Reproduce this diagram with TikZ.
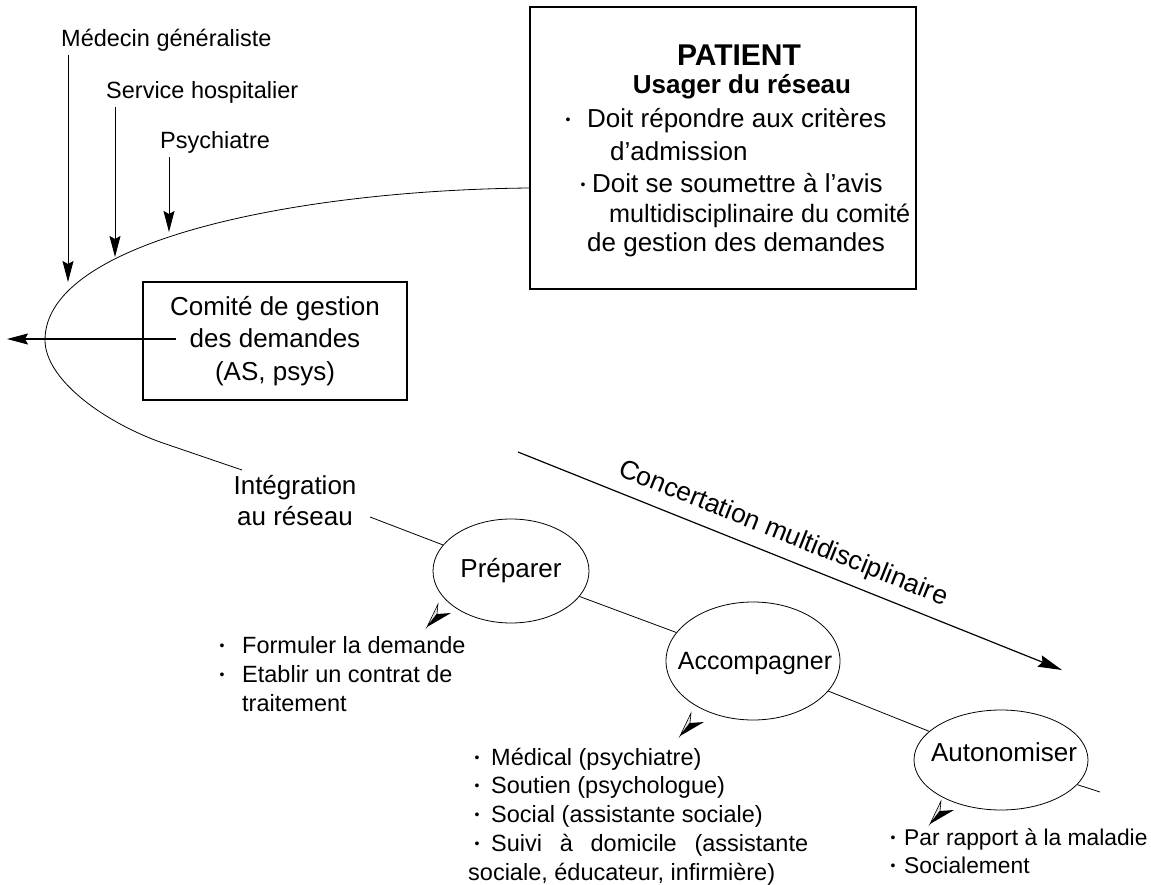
\documentclass[tikz,border=0pt]{standalone}
\usepackage{fontspec}
\setmainfont{Liberation Sans}
\usetikzlibrary{arrows.meta,shapes.geometric}
\newcommand\fsm{\fontsize{23.5}{28}\selectfont}
\newcommand\fbg{\fontsize{26}{32.5}\selectfont}
\newcommand\bul[1]{\makebox[#1][l]{\raisebox{3.5pt}{\fontsize{14}{14}\selectfont •}}}
\begin{document}
\begin{tikzpicture}[x=1pt,y=-1pt,
  txt/.style={inner sep=0pt, anchor=base west, font=\fsm},
  btxt/.style={inner sep=0pt, anchor=base west, font=\fbg},
  arr/.style={-{Stealth[length=21pt,width=11pt,inset=3pt]}, line width=1pt},
  box/.style={draw, line width=1.1pt, rectangle, inner sep=0pt},
  oval/.style={draw, ellipse, line width=0.8pt, inner sep=0pt},
  thinline/.style={line width=0.8pt},
  arrow3d/.pic={
    \draw[line width=0.6pt, fill=black!10] (0,0) -- (11,-23) -- (10,-13) -- cycle;
    \fill (0,0) -- (10,-13) -- (24,-14) -- cycle;
  }
]
\useasboundingbox (0,0) rectangle (1151,885);

% PATIENT box
\node[box, minimum width=386pt, minimum height=282pt] (patient) at (723,148) {};
\node[inner sep=0pt, anchor=base, font=\fontsize{30}{30}\selectfont\bfseries] (pt) at (739,66) {PATIENT};
\node[inner sep=0pt, anchor=base, font=\fbg\bfseries] (us) at (742,94) {Usager du réseau};
\node[btxt] (p1) at (565.5,128) {\bul{21.5pt}Doit répondre aux critères};
\node[btxt] (p2) at (610,161) {d’admission};
\node[btxt] (p3) at (580.5,193) {\bul{11.5pt}Doit se soumettre à l’avis};
\node[btxt, font=\fontsize{25.2}{30}\selectfont] (p4) at (609,223) {multidisciplinaire du comité};
\node[btxt] (p5) at (587,252) {de gestion des demandes};

% top labels and arrows
\node[txt] (lmed) at (61,47) {Médecin généraliste};
\node[txt] (lser) at (106,99) {Service hospitalier};
\node[txt] (lpsy) at (160,149) {Psychiatre};
\coordinate (a1s) at (68,55);  \coordinate (a1e) at (68,282);
\coordinate (a2s) at (115,107); \coordinate (a2e) at (115,257);
\coordinate (a3s) at (169,157); \coordinate (a3e) at (169,232);
\draw[arr] (a1s) -- (a1e);
\draw[arr] (a2s) -- (a2e);
\draw[arr] (a3s) -- (a3e);

% main curve
\coordinate (c0) at (530,188);
\coordinate (ci) at (242,470);
\draw[thinline] (c0) .. controls (300,190) and (45,240) .. (45,340)
  .. controls (45,378) and (100,420) .. (160,442) -- (ci);

% Comite box
\node[box, minimum width=264pt, minimum height=118pt, align=center, font=\fbg] (com) at (275,341)
  {Comité de gestion\\des demandes\\(AS, psys)};
\coordinate (h0) at (176,339); \coordinate (h1) at (7,339);
\draw[arr, line width=1.1pt] (h0) -- (h1);

% Integration
\node[align=center, inner sep=0pt, font=\fontsize{26}{31}\selectfont] (integ) at (295,500.5) {Intégration\\au réseau};
\coordinate (i1) at (370,517);

% ellipses
\node[oval, minimum width=156pt, minimum height=104pt] (prep) at (511,571) {};
\node[inner sep=0pt, font=\fbg] (prept) at (511,571) {Préparer};
\node[oval, minimum width=174pt, minimum height=118pt] (acc) at (753,661) {};
\node[inner sep=0pt, font=\fontsize{25}{30}\selectfont] (acct) at (755,663) {Accompagner};
\node[oval, minimum width=174pt, minimum height=100pt] (auto) at (1001,760) {};
\node[inner sep=0pt, font=\fbg] (autot) at (1004,752) {Autonomiser};
\coordinate (a9) at (1100,792);
\draw[thinline] (i1) -- (prep);
\draw[thinline] (prep) -- (acc);
\draw[thinline] (acc) -- (auto);
\draw[thinline] (auto) -- (a9);

% concertation arrow
\coordinate (k0) at (518,452); \coordinate (k1) at (1062,670);
\draw[-{Stealth[length=24pt,width=12pt,inset=3pt]}, line width=1.2pt] (k0) -- (k1);
\node[inner sep=0pt, rotate=-21.8, font=\fontsize{26.5}{30}\selectfont] (conc) at (783,534) {Concertation multidisciplinaire};

% small 3d arrows
\pic (pa) at (427,627) {arrow3d};
\pic (pb) at (680,736) {arrow3d};
\pic (pc) at (930,824) {arrow3d};

% lists
\node[txt] (f1) at (219.5,653.5) {\bul{22.5pt}Formuler la demande};
\node[txt] (f2) at (219.5,682.5) {\bul{22.5pt}Etablir un contrat de};
\node[txt] (f3) at (242,711.5) {traitement};

\node[txt] (m1) at (474.5,765.5) {\bul{16.5pt}Médical (psychiatre)};
\node[txt] (m2) at (474.5,793.5) {\bul{16.5pt}Soutien (psychologue)};
\node[txt] (m3) at (474.5,822.5) {\bul{16.5pt}Social (assistante sociale)};
\node[txt] (m4) at (474.5,851.5) {\bul{16.5pt}\makebox[317pt][s]{Suivi à domicile (assistante}};
\node[txt] (m5) at (468,880.5) {sociale, éducateur, infirmière)};

\node[txt, font=\fontsize{22.8}{28}\selectfont] (r1) at (890.5,845.5) {\bul{13.5pt}Par rapport à la maladie};
\node[txt, font=\fontsize{22.8}{28}\selectfont] (r2) at (890.5,873.5) {\bul{13.5pt}Socialement};
\end{tikzpicture}
\end{document}
